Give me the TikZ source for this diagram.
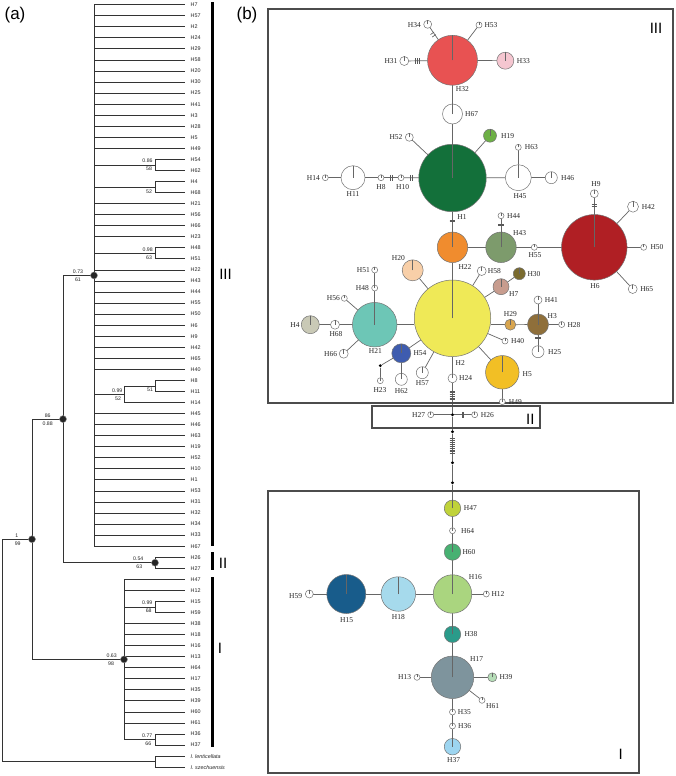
\documentclass[tikz,border=0pt]{standalone}
\usepackage{fontspec}
\setmainfont{Liberation Serif}
\setsansfont{Liberation Sans}
\pgfdeclarelayer{bg}
\pgfsetlayers{bg,main}
\pgfmathdeclarefunction{ty}{1}{\pgfmathparse{4.7+#1*11.05}}
\definecolor{c32}{HTML}{E85252}
\definecolor{c33}{HTML}{F5C6D0}
\definecolor{c1}{HTML}{13703A}
\definecolor{c19}{HTML}{6DB045}
\definecolor{c6}{HTML}{B01F24}
\definecolor{c22}{HTML}{F08C2E}
\definecolor{c43}{HTML}{7D9B6C}
\definecolor{c2}{HTML}{EFE957}
\definecolor{c20}{HTML}{F8CFA8}
\definecolor{c30}{HTML}{7A6B2F}
\definecolor{c7}{HTML}{C79C8E}
\definecolor{c29}{HTML}{D8A54F}
\definecolor{c3}{HTML}{8F6F3A}
\definecolor{c5}{HTML}{F2BF25}
\definecolor{c54}{HTML}{3E5CAF}
\definecolor{c21}{HTML}{6DC6B6}
\definecolor{c4}{HTML}{C9C9B6}
\definecolor{c47}{HTML}{C0D33A}
\definecolor{c60}{HTML}{48B172}
\definecolor{c16}{HTML}{AAD57F}
\definecolor{c18}{HTML}{A6DAEC}
\definecolor{c15}{HTML}{185C8B}
\definecolor{c38}{HTML}{2A9B8A}
\definecolor{c17}{HTML}{7E949D}
\definecolor{c39}{HTML}{B5DDB7}
\definecolor{c37}{HTML}{9DD5F0}
\tikzset{
 br/.style={line width=0.8pt, draw=black!80},
 tiplab/.style={font=\sffamily\fontsize{5.4}{6}\selectfont, anchor=west, inner sep=0pt, text=black!85},
 suplab/.style={font=\sffamily\fontsize{5.2}{6}\selectfont, inner sep=0pt, text=black!85},
 cnode/.style={circle, fill=black!85, draw=black!45, line width=0.4pt, minimum size=7pt, inner sep=0pt},
 clbar/.style={line width=2.6pt, draw=black},
 hap/.style={circle, draw=black!55, line width=0.5pt, inner sep=0pt, outer sep=0pt},
 edge/.style={draw=black!60, line width=0.7pt},
 rtick/.style={draw=black!60, line width=0.6pt},
 hatch/.style={draw=black!65, line width=0.6pt},
 mv/.style={circle, fill=black, inner sep=0pt, minimum size=3.2pt},
 nl/.style={font=\fontsize{7.5}{8}\selectfont, inner sep=0pt, text=black!85},
 frame/.style={draw=black!70, line width=1.1pt},
 biglab/.style={font=\sffamily\fontsize{15}{15}\selectfont, inner sep=0pt},
 panlab/.style={font=\sffamily\fontsize{17}{17}\selectfont, inner sep=0pt},
}
\newcommand\hap[5]{\node[hap, minimum size=#4pt, fill=#5] (#1) at (#2,#3) {};}
\newcommand\hv[2]{\draw[hatch] (#1-2.8,#2) -- (#1+2.8,#2);}
\newcommand\vh[2]{\draw[hatch] (#1,#2-2.8) -- (#1,#2+2.8);}
\begin{document}
\begin{tikzpicture}[x=1pt,y=-1pt]
\useasboundingbox (0,0) rectangle (675,776);
\begin{pgfonlayer}{bg}
\fill[white] (0,0) rectangle (675,776);
\end{pgfonlayer}

% ---------------- (a) tree ----------------
\node[panlab] (pa) at (15,15) {(a)};
\node[panlab] (pb) at (247,15) {(b)};

\foreach \nm/\i/\sx in {H7/0/94, H57/1/94, H2/2/94, H24/3/94, H29/4/94, H58/5/94, H20/6/94, H30/7/94, H25/8/94, H41/9/94, H3/10/94, H28/11/94, H5/12/94, H49/13/94, H54/14/155, H62/15/155, H4/16/155, H68/17/155, H21/18/94, H56/19/94, H66/20/94, H23/21/94, H48/22/155, H51/23/155, H22/24/94, H43/25/94, H44/26/94, H55/27/94, H50/28/94, H6/29/94, H9/30/94, H42/31/94, H65/32/94, H40/33/94, H8/34/155, H11/35/155, H14/36/124, H45/37/94, H46/38/94, H63/39/94, H19/40/94, H52/41/94, H10/42/94, H1/43/94, H53/44/94, H31/45/94, H32/46/94, H34/47/94, H33/48/94, H67/49/94, H26/50/155, H27/51/155, H47/52/124, H12/53/124, H15/54/155, H59/55/155, H38/56/124, H18/57/124, H16/58/124, H13/59/124, H64/60/124, H17/61/124, H35/62/124, H39/63/124, H60/64/124, H61/65/124, H36/66/155, H37/67/155} {
  \draw[br] (\sx,{ty(\i)}) -- (185,{ty(\i)});
  \node[tiplab] (t\i) at (190.5,{ty(\i)}) {\nm};
}
\draw[br] (155,{ty(68)}) -- (185,{ty(68)});
\node[tiplab] (t68) at (190.5,{ty(68)}) {\itshape I. lenticellata};
\draw[br] (155,{ty(69)}) -- (185,{ty(69)});
\node[tiplab] (t69) at (190.5,{ty(69)}) {\itshape I. szechuensis};

\foreach \a/\p in {14/94,16/94,22/94,34/124,50/63,54/124,66/124,68/2} {
  \draw[br] (155,{ty(\a)}) -- (155,{ty(\a+1)});
  \draw[br] (\p,{ty(\a+0.5)}) -- (155,{ty(\a+0.5)});
}
\draw[br] (124,{ty(34.5)}) -- (124,{ty(36)});
\draw[br] (94,{ty(35.25)}) -- (124,{ty(35.25)});
\draw[br] (94,{ty(0)}) -- (94,{ty(49)});
\draw[br] (63,{ty(24.5)}) -- (94,{ty(24.5)});
\draw[br] (124,{ty(52)}) -- (124,{ty(66.5)});
\draw[br] (32,{ty(59.25)}) -- (124,{ty(59.25)});
\draw[br] (63,{ty(24.5)}) -- (63,{ty(50.5)});
\draw[br] (32,{ty(37.5)}) -- (63,{ty(37.5)});
\draw[br] (32,{ty(37.5)}) -- (32,{ty(59.25)});
\draw[br] (2,{ty(48.375)}) -- (32,{ty(48.375)});
\draw[br] (2,{ty(48.375)}) -- (2,{ty(68.5)});

\node[cnode] (nIII) at (94,{ty(24.5)}) {};
\node[cnode] (nIIIb) at (63,{ty(37.5)}) {};
\node[cnode] (nII) at (155,{ty(50.5)}) {};
\node[cnode] (nroot) at (32,{ty(48.375)}) {};
\node[cnode] (nI) at (124,{ty(59.25)}) {};

\foreach \xx/\yy/\tt [count=\k] in {147.5/161.2/0.86, 149/169/58, 149/191.3/52, 147.7/249.3/0.98, 149/257.3/63, 150/390/51, 117.3/391.2/0.99, 118/398.5/52, 78/272/0.73, 78/279.3/61, 47.7/415.7/86, 47.7/423.3/0.88, 16.7/535.7/1, 17.7/543.3/99, 138.3/559/0.54, 139.3/566.7/63, 111.7/655.7/0.63, 111/664/98, 147.3/603/0.99, 148.7/610.7/68, 147.3/736/0.77, 148.3/743.7/66} {
  \node[suplab] (s\k) at (\xx,\yy) {\tt};
}

\draw[clbar] (212.3,2.5) -- (212.3,545.5);
\draw[clbar] (212.3,552) -- (212.3,569.5);
\draw[clbar] (212.3,577) -- (212.3,746.5);
\node[biglab] (cIII) at (225.5,274) {III};
\node[biglab] (cII) at (223,563) {II};
\node[biglab] (cI) at (220,648) {I};

% ---------------- (b) network ----------------
\draw[frame] (268,9) rectangle (673,403);
\draw[frame] (372,406) rectangle (540,428);
\draw[frame] (268,491) rectangle (639,773);
\node[biglab] (bIII) at (656,28) {III};
\node[biglab] (bII) at (530.3,419.3) {II};
\node[biglab] (bI) at (620.7,754) {I};

\foreach \nm/\xx/\yy/\dd/\cc in {
H32/452.5/60.3/50/c32, H34/427.7/24.3/8/white, H53/479/25/6/white, H31/404.3/61/9/white, H33/505.3/60.7/17/c33,
H67/452.5/114/20/white, H1/452.5/178/67.5/c1, H52/409.3/137.3/8/white, H19/490/135.7/13/c19,
H45/518.3/177.7/26/white, H63/518.3/147.3/6/white, H46/551.3/177.7/12/white,
H11/353/177.7/24/white, H14/325.3/177.7/6/white, H8/381/177.7/6/white, H10/401/177.7/6/white,
H9/594.3/193.7/8/white, H6/594.3/247.3/65.5/c6, H42/633/206.7/11/white, H50/643.7/247.3/6/white, H65/632.7/289/9/white,
H22/452.5/247.3/30.5/c22, H43/501/247.3/30.5/c43, H44/501/215.7/6/white, H55/534.3/247.3/6/white,
H2/452.5/318.3/76.5/c2, H20/412.7/270.3/21/c20, H58/481.7/271/9/white, H30/519.3/273.7/12/c30, H7/501/286.7/16/c7,
H29/510.3/324.7/11/c29, H3/538/324.5/21/c3, H41/538/300/8/white, H28/561.7/324.5/6/white, H25/538/351.7/12/white,
H40/505/341/6/white, H5/502.3/372.3/33.5/c5, H49/502.3/401.7/6/white, H24/452.5/378.3/9/white, H57/422.3/372.7/12/white,
H54/401.3/353.3/19/c54, H62/401.3/379.3/12/white, H23/380.3/380.7/6/white,
H21/374.7/324.7/44.5/c21, H48/374.7/288/6/white, H51/374.7/270/6/white, H56/344.3/298.3/6/white, H68/335/324.7/9/white,
H4/310.3/324.7/18/c4, H66/343.7/353.7/9/white,
H27/430.7/414.7/6/white, H26/474.7/414.7/6/white,
H47/452.5/508.3/16.5/c47, H64/452.5/530.7/6/white, H60/452.5/552/16.5/c60, H16/452.5/594/38.5/c16, H12/486.3/594/6/white,
H18/398.3/594/34.5/c18, H15/346.3/594/39/c15, H59/309.3/594/8/white, H38/452.5/634.3/16.5/c38,
H17/452.5/677.3/42.5/c17, H13/417/677.3/6/white, H39/492.3/677.3/9/c39, H61/482/700.3/6/white,
H35/452.5/712/6/white, H36/452.5/726/6/white, H37/452.5/746.7/16.5/c37} {
  \hap{\nm}{\xx}{\yy}{\dd}{\cc}
  \draw[rtick] (\nm.center) -- (\nm.north);
}

\node[mv] (J) at (452.5,414.7) {};
\node[mv] (D1) at (452.5,431.7) {};
\node[mv] (D2) at (452.5,462.7) {};
\node[mv] (D3) at (452.5,482.7) {};
\node[mv] (M1) at (380.3,365.7) {};

\begin{pgfonlayer}{bg}
\foreach \a/\b in {H34/H32, H53/H32, H31/H32, H33/H32, H32/H67, H67/H1, H52/H1, H19/H1, H1/H45, H45/H63, H45/H46,
 H1/H10, H10/H8, H8/H11, H11/H14, H1/H22, H22/H43, H43/H44, H43/H55, H55/H6, H6/H9, H6/H42, H6/H50, H6/H65,
 H22/H2, H2/H20, H2/H58, H2/H7, H7/H30, H29/H3, H3/H41, H3/H28, H3/H25, H2/H40, H2/H5, H5/H49, H2/H24, H2/H57,
 H2/H54, H54/H62, H54/M1, M1/H23, H21/H48, H48/H51, H21/H56, H21/H68, H68/H4, H21/H66,
 H24/J, J/D1, D1/D2, D2/D3, D3/H47, J/H27, J/H26,
 H47/H64, H64/H60, H60/H16, H16/H12, H16/H18, H18/H15, H15/H59, H16/H38, H38/H17, H17/H13, H17/H39, H17/H61,
 H17/H35, H35/H36, H36/H37} {
  \draw[edge] (\a) -- (\b);
}
\draw[edge] (H21.east) -- (H21.east -| H2.west);
\draw[edge] (H29.west) -- (H29.west -| H2.east);
\end{pgfonlayer}

% hatch marks (mutations)
\draw[hatch] (430.5,34.55) -- (434.1,32.05);
\draw[hatch] (432.2,37.05) -- (435.8,34.55);
\vh{415.5}{61} \vh{417.5}{61} \vh{419.5}{61}
\vh{390.5}{177.7} \vh{392.3}{177.7}
\vh{410}{177.7} \vh{411.8}{177.7}
\hv{452.5}{219.8} \hv{452.5}{221.6}
\hv{501}{223.8} \hv{501}{225.6}
\hv{594.3}{204.2} \hv{594.3}{206}
\hv{538}{336.8} \hv{538}{338.6}
\foreach \yy in {391,392.7,394.4,396.1,397.8,399.5} {\hv{452.5}{\yy}}
\vh{461.8}{414.7} \vh{463.6}{414.7}
\foreach \yy in {438.5,440.4,442.3,444.1,446,447.9,449.8,451.6,453.5} {\hv{452.5}{\yy}}

% labels
\foreach \nm/\xx/\yy in {
H34/414.3/25.3, H53/491/25, H31/391/61, H33/523.3/61, H32/462.3/89.3, H67/471.7/114, H52/396/137.3, H19/507.7/135.7,
H63/531.3/147.3, H46/567.7/177.7, H14/313.3/177.7, H11/353/194.3, H8/381/187.3, H10/402.7/187.3, H45/520/196.3,
H9/596/184.3, H1/462/217.3, H44/513.7/215.7, H43/519.7/233.3, H42/648.3/206.7, H50/657/247.3, H65/646.7/289,
H6/595/286.3, H55/535/254.7, H22/465/267, H20/398.3/258.3, H58/494.3/271, H30/534/273.7, H7/513.7/293.7,
H29/510.3/314.3, H3/552.3/316, H41/551.3/300, H28/574/324.7, H25/554.7/351.7, H40/517.7/341, H5/527.3/373.7,
H49/515.3/401.7, H2/460.3/363.3, H24/465.7/378.3, H57/422.3/383.3, H54/420/353.3, H62/401.3/391, H23/380/390,
H21/375.3/350.7, H51/363.3/270, H48/362.3/288, H56/333.3/298.3, H68/336/334, H4/295/324.7, H66/330.7/353.7,
H27/418.7/414.7, H26/487.3/414.7, H47/470.3/508.3, H64/467.7/530.7, H60/469/552, H16/475.3/576.7, H12/498/594,
H59/295.7/596, H15/346.7/619.7, H18/398.3/617, H38/471/634.3, H17/476.7/659.3, H13/404.7/677.3, H39/506/677.3,
H61/492.7/706.3, H35/464.3/712, H36/464.7/726, H37/453.7/760} {
  \node[nl] (l\nm) at (\xx,\yy) {\nm};
}
\end{tikzpicture}
\end{document}
